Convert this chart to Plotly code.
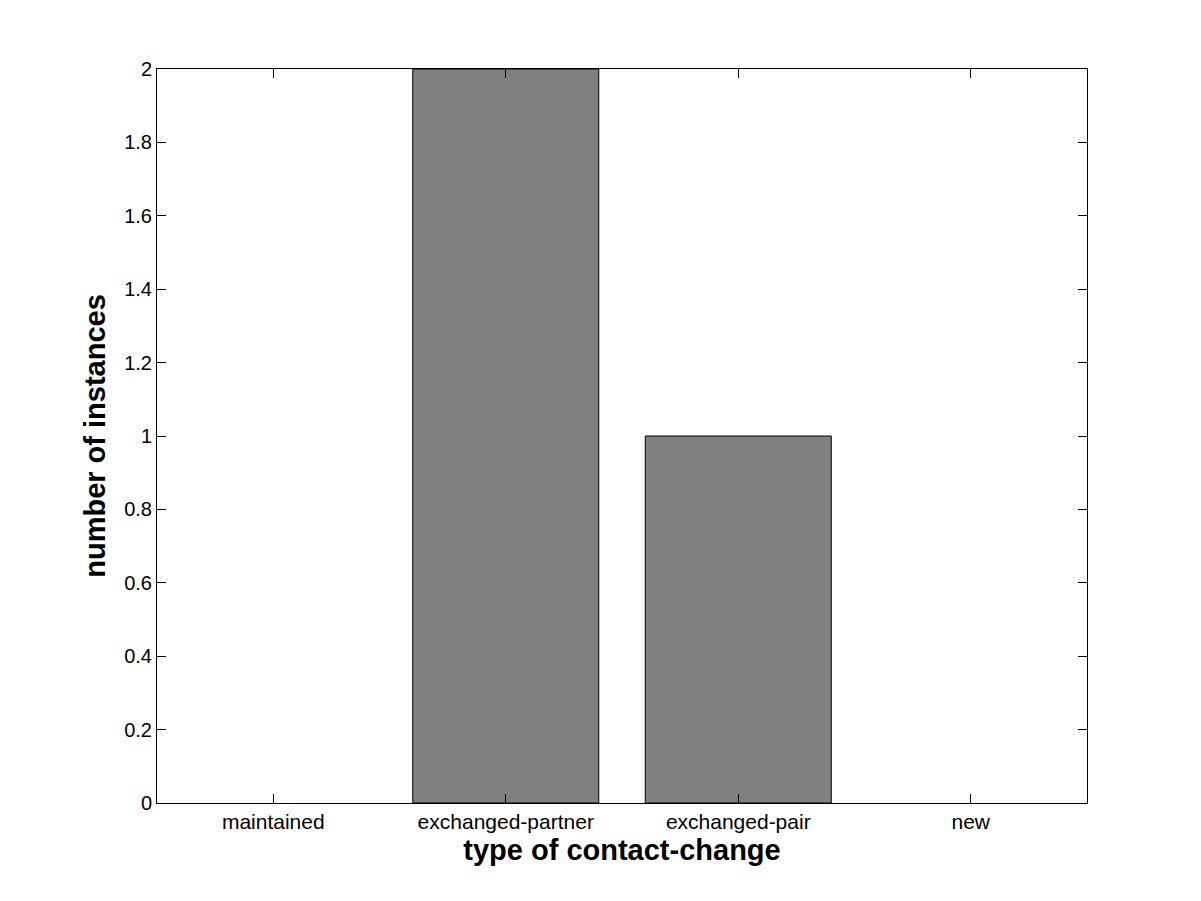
import plotly.graph_objects as go

categories = ["maintained", "exchanged-partner", "exchanged-pair", "new"]
positions = [1, 2, 3, 4]
values = [0, 2, 1, 0]
yticks = [0, 0.2, 0.4, 0.6, 0.8, 1, 1.2, 1.4, 1.6, 1.8, 2]
ytick_text = ["0", "0.2", "0.4", "0.6", "0.8", "1", "1.2", "1.4", "1.6", "1.8", "2"]

fig = go.Figure()
fig.add_trace(go.Bar(
    x=positions, y=values, width=0.8,
    marker=dict(color="#808080",
                line=dict(color="black", width=[1 if v else 0 for v in values])),
))

font_family = "Liberation Sans, Arial, sans-serif"
fig.update_layout(
    width=1193, height=893,
    margin=dict(l=149, r=114, t=61, b=98),
    paper_bgcolor="white", plot_bgcolor="white",
    showlegend=False,
    font=dict(family=font_family, color="black", size=21),
    xaxis=dict(
        range=[0.5, 4.5], tickvals=positions, ticktext=categories,
        ticks="inside", ticklen=9, tickcolor="black", tickwidth=1,
        showline=True, linecolor="black", linewidth=1, mirror="ticks",
        showgrid=False, zeroline=False,
        tickfont=dict(size=21),
        title=dict(text="<b>type of contact-change</b>", font=dict(size=29), standoff=7),
    ),
    yaxis=dict(
        range=[0, 2], tickvals=yticks, ticktext=ytick_text,
        ticks="inside", ticklen=9, tickcolor="black", tickwidth=1,
        showline=True, linecolor="black", linewidth=1, mirror="ticks",
        showgrid=False, zeroline=False,
        tickfont=dict(size=20),
        title=dict(text="<b>number of instances</b>", font=dict(size=29), standoff=10),
    ),
)
fig.write_html("out.html")
